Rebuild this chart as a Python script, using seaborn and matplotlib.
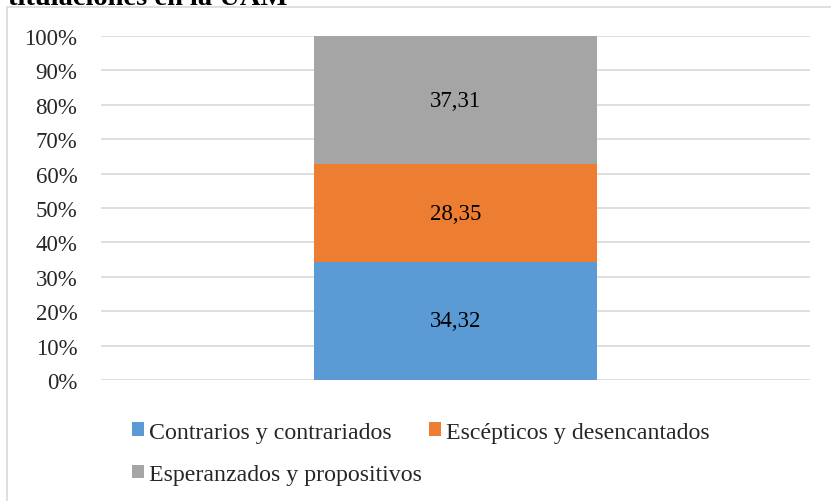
import numpy as np
import pandas as pd
import matplotlib
matplotlib.use("Agg")
import matplotlib.pyplot as plt
from matplotlib.patches import Patch, Rectangle
import seaborn as sns

# Data
categories = ["Contrarios y contrariados", "Escépticos y desencantados", "Esperanzados y propositivos"]
values = [34.32, 28.35, 37.31]
colors = ["#5B9BD5", "#ED7D31", "#A5A5A5"]
tick_values = [0, 10, 20, 30, 40, 50, 60, 70, 80, 90, 100]
tick_labels = [f"{v}%" for v in tick_values]
title_tail = "titulaciones en la UAM"

sns.set_theme(style="white")
plt.rcParams["font.family"] = ["Liberation Serif", "DejaVu Serif"]

W, H = 831, 502
fig = plt.figure(figsize=(W / 100, H / 100), dpi=100)

# chart frame (extends past right/bottom edges)
fig.patches.append(Rectangle((7 / W, -0.1), 2.0, 1 - 8 / H + 0.1, transform=fig.transFigure,
                             facecolor="none", edgecolor="#D9D9D9", linewidth=1.2, zorder=0))

# last line of the heading, running off the top edge
fig.text(8 / W, 1 - 5 / H, title_tail, ha="left", va="baseline", fontsize=20.5,
         fontweight="bold", color="black")

ax = fig.add_axes([101 / W, 1 - 381 / H, 709 / W, 344 / H])

bottoms = np.concatenate([[0], np.cumsum(values)[:-1]])

for (cat, val, col, bot) in zip(categories, values, colors, bottoms):
    sub = pd.DataFrame({"grupo": [""], "valor": [val]})
    sns.barplot(data=sub, x="grupo", y="valor", color=col, width=0.4, bottom=bot,
                ax=ax, saturation=1, edgecolor="none", zorder=3)
    ax.text(0, bot + val / 2, f"{val:.2f}".replace(".", ","), ha="center", va="center",
            fontsize=16.5, color="black", zorder=4)

ax.set_xlim(-0.5, 0.5)
ax.set_ylim(0, 100)
ax.set_yticks(tick_values)
ax.set_yticklabels(tick_labels, fontsize=16.5)
ax.set_xticks([])
ax.set_xlabel("")
ax.set_ylabel("")
ax.tick_params(axis="y", length=0, pad=17)
ax.yaxis.grid(True, color="#D9D9D9", linewidth=1.2, zorder=0)
ax.set_axisbelow(True)
for s in ax.spines.values():
    s.set_visible(False)

# legend in row order: two items on first row, one below
handles = [Patch(facecolor=c, edgecolor="none") for c in colors]
order = [0, 2, 1]
leg = fig.legend([handles[i] for i in order], [categories[i] for i in order], ncol=2,
                 loc="upper left", bbox_to_anchor=(122 / W, 1 - 413 / H), frameon=False,
                 fontsize=17.2, handlelength=0.51, handleheight=0.51, handletextpad=0.22,
                 columnspacing=0.3, labelspacing=0.9, borderaxespad=0)

fig.savefig("out.png", dpi=100)
